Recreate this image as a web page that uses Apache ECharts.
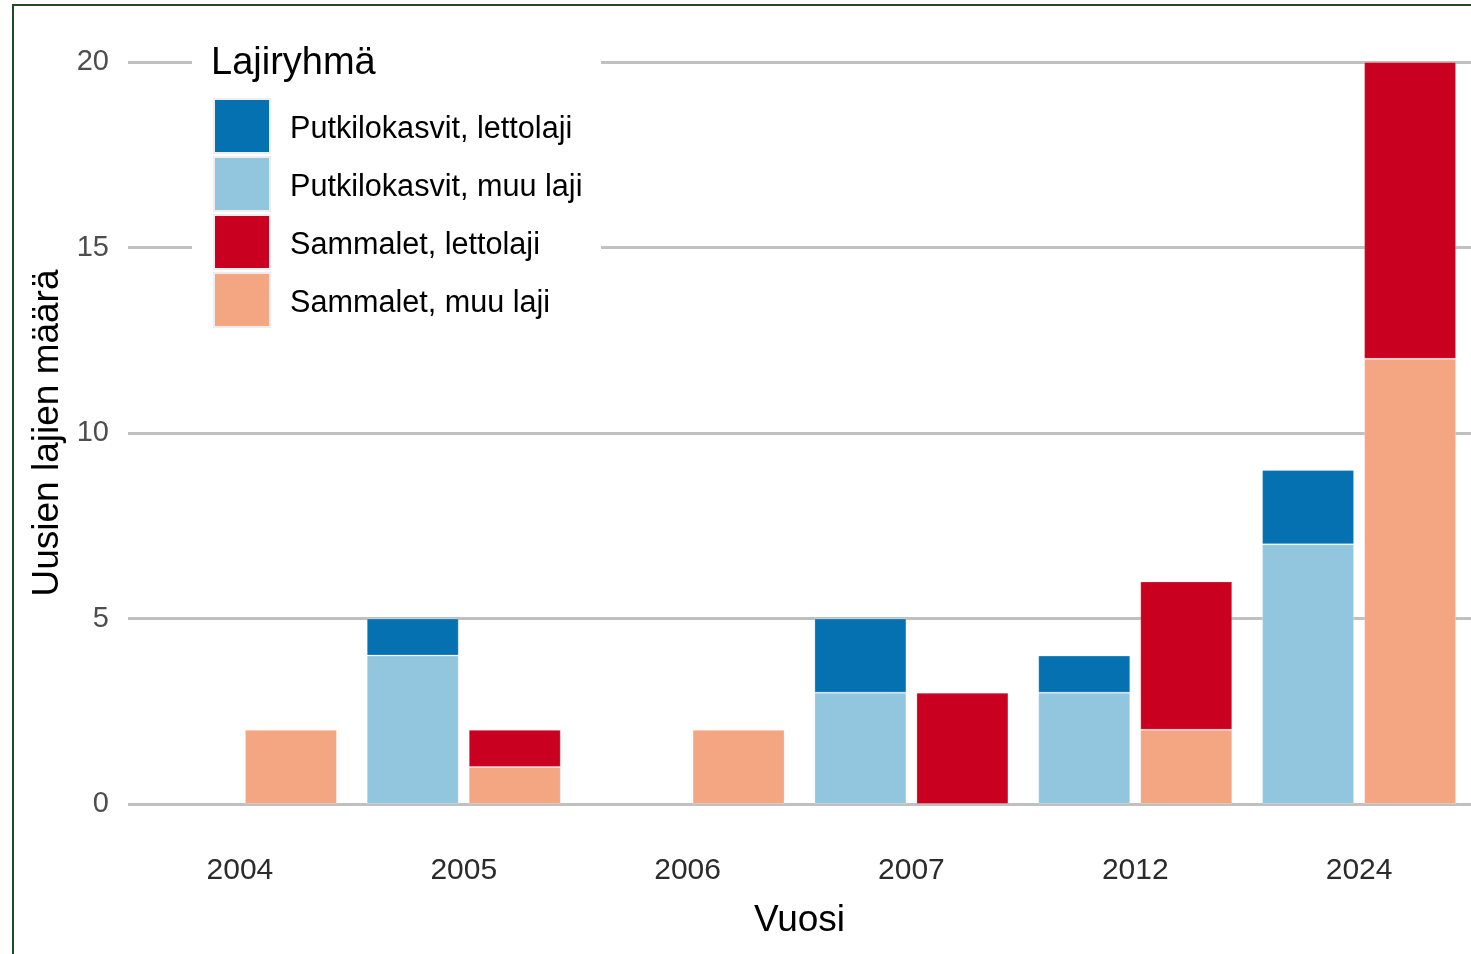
<!DOCTYPE html>
<html>
<head>
<meta charset="utf-8">
<script src="https://cdn.jsdelivr.net/npm/echarts@6/dist/echarts.min.js"></script>
<style>
html,body{margin:0;padding:0;background:#fff;}
#chart{width:1471px;height:954px;}
</style>
</head>
<body>
<div id="chart"></div>
<script>
// Data
const years = ['2004', '2005', '2006', '2007', '2012', '2024'];
const putkiloLetto = [0, 1, 0, 2, 1, 2];
const putkiloMuu   = [0, 4, 0, 3, 3, 7];
const sammalLetto  = [0, 1, 0, 3, 4, 8];
const sammalMuu    = [2, 1, 2, 0, 2, 12];
const yTicks = [0, 5, 10, 15, 20];
const legendTitle = 'Lajiryhmä';
const names = {
  pl: 'Putkilokasvit, lettolaji',
  pm: 'Putkilokasvit, muu laji',
  sl: 'Sammalet, lettolaji',
  sm: 'Sammalet, muu laji'
};

const FONT = "'Liberation Sans', Arial, sans-serif";
const colors = { pl: '#0571b0', pm: '#92c5de', sl: '#ca0020', sm: '#f4a582' };
const nz = arr => arr.map(v => (v === 0 ? '-' : v));

function bar(name, data, stack, color) {
  return {
    name, type: 'bar', stack, data: nz(data),
    barWidth: 92, barGap: '10.87%',
    itemStyle: { color, borderColor: 'rgba(255,255,255,0.25)', borderWidth: 1 },
    emphasis: { disabled: true }
  };
}

const chart = echarts.init(document.getElementById('chart'), null, { renderer: 'canvas' });
chart.setOption({
  animation: false,
  backgroundColor: '#ffffff',
  textStyle: { fontFamily: FONT },
  grid: { left: 128, right: 0, top: 62, bottom: 150, containLabel: false },
  xAxis: {
    type: 'category', data: years,
    axisLine: { show: false }, axisTick: { show: false },
    axisLabel: { color: '#2b2b2b', fontSize: 30, margin: 52, fontFamily: FONT },
    name: 'Vuosi', nameLocation: 'middle', nameGap: 98,
    nameTextStyle: { color: '#000', fontSize: 37, fontFamily: FONT }
  },
  yAxis: {
    type: 'value', min: yTicks[0], max: yTicks[yTicks.length - 1], interval: 5,
    axisLine: { show: false }, axisTick: { show: false },
    axisLabel: { color: '#4d4d4d', fontSize: 29, margin: 19, fontFamily: FONT },
    splitLine: { show: true, lineStyle: { color: '#c0c0c0', width: 3 } },
    name: 'Uusien lajien määrä', nameLocation: 'middle', nameGap: 62, nameRotate: 90,
    nameTextStyle: { color: '#000', fontSize: 37, fontFamily: FONT }
  },
  legend: {
    orient: 'vertical', left: 213, top: 98, padding: 0,
    itemWidth: 56, itemHeight: 54, itemGap: 2,
    icon: 'rect',
    selectedMode: false,
    data: [names.pl, names.pm, names.sl, names.sm],
    itemStyle: { borderColor: '#eeeeee', borderWidth: 2 },
    formatter: '{t|{name}}',
    textStyle: {
      color: '#000', fontSize: 30.6, fontFamily: FONT,
      rich: { t: { color: '#000', fontSize: 30.6, fontFamily: FONT, padding: [7, 0, 0, 15] } }
    }
  },
  graphic: [
    { type: 'rect', z: 1, silent: true, shape: { x: 192, y: 35, width: 409, height: 310 }, style: { fill: '#ffffff' } },
    { type: 'text', z: 5, silent: true, style: { x: 211, y: 64, text: legendTitle, fill: '#000', font: '38px ' + FONT, align: 'left', verticalAlign: 'middle' } },
    { type: 'rect', z: 10, silent: true, shape: { x: 13, y: 5, width: 1500, height: 1000 }, style: { fill: 'none', stroke: '#1f4a24', lineWidth: 2 } }
  ],
  series: [
    bar(names.pm, putkiloMuu, 'P', colors.pm),
    bar(names.pl, putkiloLetto, 'P', colors.pl),
    bar(names.sm, sammalMuu, 'S', colors.sm),
    bar(names.sl, sammalLetto, 'S', colors.sl)
  ]
});
</script>
</body>
</html>
